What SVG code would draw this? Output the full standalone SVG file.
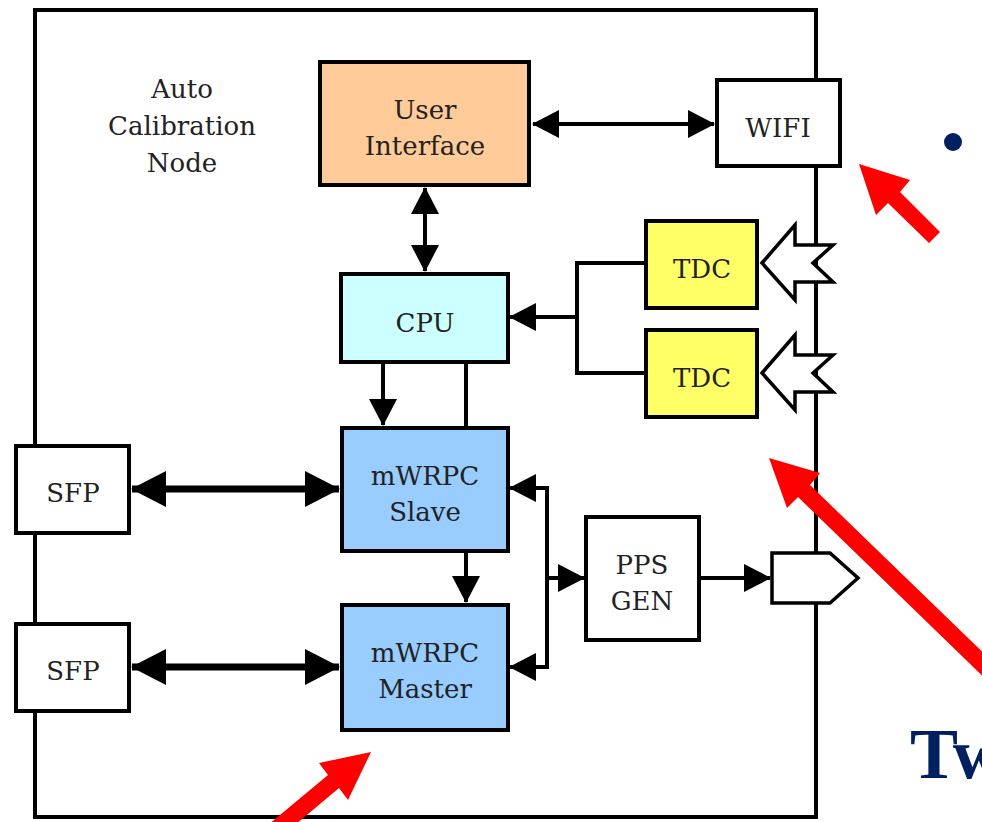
<svg xmlns="http://www.w3.org/2000/svg" width="982" height="822" viewBox="0 0 982 822">
<style>
.box{stroke:#000;stroke-width:4}
.lbl{font-family:"DejaVu Serif","Liberation Serif",serif;font-size:26px;fill:#222;text-anchor:middle}
.ln{fill:none;stroke:#000;stroke-width:4}
.thk{fill:none;stroke:#000;stroke-width:7}
.port{fill:#fff;stroke:#000;stroke-width:3.5}
.red{fill:#ff0000}
</style>
<defs>
<marker id="ah" markerUnits="userSpaceOnUse" markerWidth="28" markerHeight="30" refX="26" refY="14" orient="auto-start-reverse" viewBox="0 0 28 30">
<path d="M0,0 L27,14 L0,28 z" fill="#000"/>
</marker>
<marker id="ahb" markerUnits="userSpaceOnUse" markerWidth="36" markerHeight="38" refX="34" refY="18" orient="auto-start-reverse" viewBox="0 0 36 38">
<path d="M0,0 L35,18 L0,36 z" fill="#000"/>
</marker>
</defs>
<rect width="982" height="822" fill="#fff"/>
<g id="frame">
<rect x="35" y="10" width="781" height="807" fill="none" stroke="#000" stroke-width="4"/>
<text class="lbl" x="182" y="98">Auto</text>
<text class="lbl" x="182" y="135">Calibration</text>
<text class="lbl" x="182" y="172">Node</text>
</g>
<g id="connectors">
<path class="ln" d="M533,124 H714" marker-start="url(#ah)" marker-end="url(#ah)"/>
<path class="ln" d="M425,188 V271" marker-start="url(#ah)" marker-end="url(#ah)"/>
<path class="ln" d="M646,263 H577 V373 H646"/>
<path class="ln" d="M577,317 H510" marker-end="url(#ah)"/>
<path class="ln" d="M383,362 V425" marker-end="url(#ah)"/>
<path class="ln" d="M466,362 V427"/>
<path class="ln" d="M466,551 V602" marker-end="url(#ah)"/>
<path class="thk" d="M132,489 H339" marker-start="url(#ahb)" marker-end="url(#ahb)"/>
<path class="thk" d="M132,667 H339" marker-start="url(#ahb)" marker-end="url(#ahb)"/>
<path class="ln" d="M510,488 H547 V667 H510" marker-start="url(#ah)" marker-end="url(#ah)"/>
<path class="ln" d="M547,578 H584" marker-end="url(#ah)"/>
<path class="ln" d="M699,578 H770" marker-end="url(#ah)"/>
</g>
<g id="ui">
<rect class="box" x="320" y="62" width="209" height="123" fill="#ffcc99"/>
<text class="lbl" x="425" y="119">User</text>
<text class="lbl" x="425" y="155">Interface</text>
</g>
<g id="wifi">
<rect class="box" x="717" y="80" width="123" height="86" fill="#fff"/>
<text class="lbl" x="778" y="137">WIFI</text>
</g>
<g id="cpu">
<rect class="box" x="341" y="274" width="167" height="88" fill="#ccffff"/>
<text class="lbl" x="425" y="332">CPU</text>
</g>
<g id="tdc1">
<rect class="box" x="646" y="221" width="111" height="87" fill="#ffff66"/>
<text class="lbl" x="702" y="278">TDC</text>
</g>
<g id="tdc2">
<rect class="box" x="646" y="330" width="111" height="87" fill="#ffff66"/>
<text class="lbl" x="702" y="387">TDC</text>
</g>
<g id="in1">
<polygon class="port" points="762,263 795,225 795,245 833,245 813,263 833,282 795,282 795,300"/>
</g>
<g id="in2">
<polygon class="port" points="762,373 795,335 795,355 833,355 813,373 833,392 795,392 795,410"/>
</g>
<g id="slave">
<rect class="box" x="342" y="428" width="166" height="123" fill="#99ccff"/>
<text class="lbl" x="425" y="485">mWRPC</text>
<text class="lbl" x="425" y="521">Slave</text>
</g>
<g id="master">
<rect class="box" x="342" y="605" width="166" height="125" fill="#99ccff"/>
<text class="lbl" x="425" y="662">mWRPC</text>
<text class="lbl" x="425" y="698">Master</text>
</g>
<g id="sfp1">
<rect class="box" x="16" y="446" width="113" height="87" fill="#fff"/>
<text class="lbl" x="73" y="502">SFP</text>
</g>
<g id="sfp2">
<rect class="box" x="16" y="624" width="113" height="87" fill="#fff"/>
<text class="lbl" x="73" y="680">SFP</text>
</g>
<g id="pps">
<rect class="box" x="586" y="517" width="113" height="123" fill="#fff"/>
<text class="lbl" x="642" y="574">PPS</text>
<text class="lbl" x="642" y="610">GEN</text>
</g>
<g id="out">
<polygon class="port" points="772,553 830,553 858,578 830,603 772,603"/>
</g>
<g id="annotations">
<polygon class="red" points="859,164 910,180 900,192 940,232 929,243 888,203 876,215"/>
<polygon class="red" points="769,458 820,473 810,485 1000,669 1000,693 798,497 787,508"/>
<polygon class="red" points="371,752 319,763 328,775 250,840 277,840 339,788 348,800"/>
<circle cx="953" cy="142" r="9" fill="#002060"/>
<text x="910" y="778" font-family="Liberation Serif, serif" font-weight="bold" font-size="72" fill="#002060">Tw</text>
</g>
</svg>
